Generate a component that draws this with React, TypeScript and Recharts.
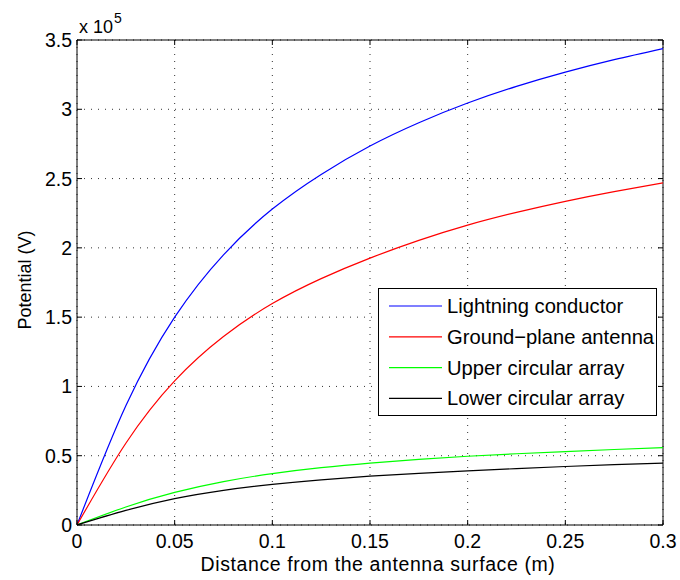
import { CartesianGrid, Legend, Line, LineChart, ReferenceLine, XAxis, YAxis } from "recharts"

// distance from the antenna surface (m)
const distance = [0, 0.025, 0.05, 0.075, 0.1, 0.125, 0.15, 0.175, 0.2, 0.225, 0.25, 0.275, 0.3]

// potential, in units of 1e5 V
const lightning = [0, 0.86, 1.5, 1.95, 2.28, 2.53, 2.735, 2.903, 3.045, 3.165, 3.268, 3.358, 3.438]
const groundPlane = [0, 0.59, 1.04, 1.36, 1.598, 1.778, 1.926, 2.054, 2.164, 2.256, 2.336, 2.406, 2.469]
const upperArray = [0, 0.13, 0.235, 0.313, 0.371, 0.414, 0.447, 0.474, 0.496, 0.514, 0.53, 0.545, 0.559]
const lowerArray = [0, 0.105, 0.19, 0.25, 0.293, 0.326, 0.352, 0.373, 0.391, 0.407, 0.422, 0.435, 0.447]

const xTicks = [0, 0.05, 0.1, 0.15, 0.2, 0.25, 0.3]
const yTicks = [0, 0.5, 1, 1.5, 2, 2.5, 3, 3.5]

const series = [
  { key: "lightning", name: "Lightning conductor", color: "#0000ff", values: lightning },
  { key: "ground", name: "Ground\u2212plane antenna", color: "#ff0000", values: groundPlane },
  { key: "upper", name: "Upper circular array", color: "#00ff00", values: upperArray },
  { key: "lower", name: "Lower circular array", color: "#000000", values: lowerArray },
]

const data = distance.map((d, i) => {
  const row: Record<string, number> = { d }
  series.forEach((s) => (row[s.key] = s.values[i]))
  return row
})

const FONT = '"Liberation Sans", Arial, Helvetica, sans-serif'
const W = 680
const H = 580
const PLOT = { left: 77, top: 40, right: 663, bottom: 525 }
const TICK_LEN = 5

const XTick = ({ x, payload }: any) => (
  <g>
    <text x={x} y={PLOT.bottom + 23} textAnchor="middle" fontSize={19.5} fontFamily={FONT} fill="#000">
      {String(payload.value)}
    </text>
    <line x1={x} x2={x} y1={PLOT.bottom} y2={PLOT.bottom - TICK_LEN} stroke="#000" />
    <line x1={x} x2={x} y1={PLOT.top} y2={PLOT.top + TICK_LEN} stroke="#000" />
  </g>
)

const YTick = ({ y, payload }: any) => (
  <g>
    <text x={PLOT.left - 5} y={y + 7} textAnchor="end" fontSize={19.5} fontFamily={FONT} fill="#000">
      {String(payload.value)}
    </text>
    <line x1={PLOT.left} x2={PLOT.left + TICK_LEN} y1={y} y2={y} stroke="#000" />
    <line x1={PLOT.right} x2={PLOT.right - TICK_LEN} y1={y} y2={y} stroke="#000" />
  </g>
)

const YLabel = () => (
  <g fontFamily={FONT} fill="#000">
    <text x={31} y={280} fontSize={18} textAnchor="middle" transform="rotate(-90 31 280)">
      Potential (V)
    </text>
    <text x={79} y={33} fontSize={18}>
      x 10
    </text>
    <text x={114} y={23} fontSize={14}>
      5
    </text>
  </g>
)

const XLabel = () => (
  <text
    x={378}
    y={571}
    fontSize={19.5}
    letterSpacing={0.6}
    textAnchor="middle"
    fontFamily={FONT}
    fill="#000"
  >
    Distance from the antenna surface (m)
  </text>
)

// matlab style legend box, placed over the plot on the right
const LegendBox = () => (
  <svg width={279} height={128} style={{ display: "block" }}>
    <rect x={0.5} y={0.5} width={278} height={127} fill="#fff" stroke="#000" />
    {series.map((s, i) => {
      const cy = 18 + i * 30.8
      return (
        <g key={s.key}>
          <line x1={11} x2={64} y1={cy} y2={cy} stroke={s.color} strokeWidth={1.2} />
          <text x={69} y={cy + 7} fontSize={20.2} fontFamily={FONT} fill="#000">
            {s.name}
          </text>
        </g>
      )
    })}
  </svg>
)

export default function App() {
  return (
    <div style={{ position: "absolute", left: 0, top: 0, width: W, height: H, background: "#fff" }}>
      <LineChart
        width={W}
        height={H}
        data={data}
        margin={{ top: PLOT.top, right: W - PLOT.right, bottom: 0, left: 0 }}
      >
        <CartesianGrid stroke="#333" strokeDasharray="1 6" />
        <XAxis
          dataKey="d"
          type="number"
          domain={[0, 0.3]}
          ticks={xTicks}
          height={H - PLOT.bottom}
          stroke="#000"
          tickLine={false}
          tick={<XTick />}
          label={<XLabel />}
          allowDataOverflow
        />
        <YAxis
          type="number"
          domain={[0, 3.5]}
          ticks={yTicks}
          width={PLOT.left}
          stroke="#000"
          tickLine={false}
          tick={<YTick />}
          label={<YLabel />}
          allowDataOverflow
        />
        <ReferenceLine y={3.5} stroke="#000" />
        <ReferenceLine x={0.3} stroke="#000" />
        {series.map((s) => (
          <Line
            key={s.key}
            type="natural"
            dataKey={s.key}
            name={s.name}
            stroke={s.color}
            strokeWidth={1.2}
            dot={false}
            isAnimationActive={false}
          />
        ))}
        <Legend
          layout="vertical"
          align="center"
          verticalAlign="middle"
          content={<LegendBox />}
          wrapperStyle={{ left: 378, top: 288, width: 279, height: 128 }}
        />
      </LineChart>
    </div>
  )
}
